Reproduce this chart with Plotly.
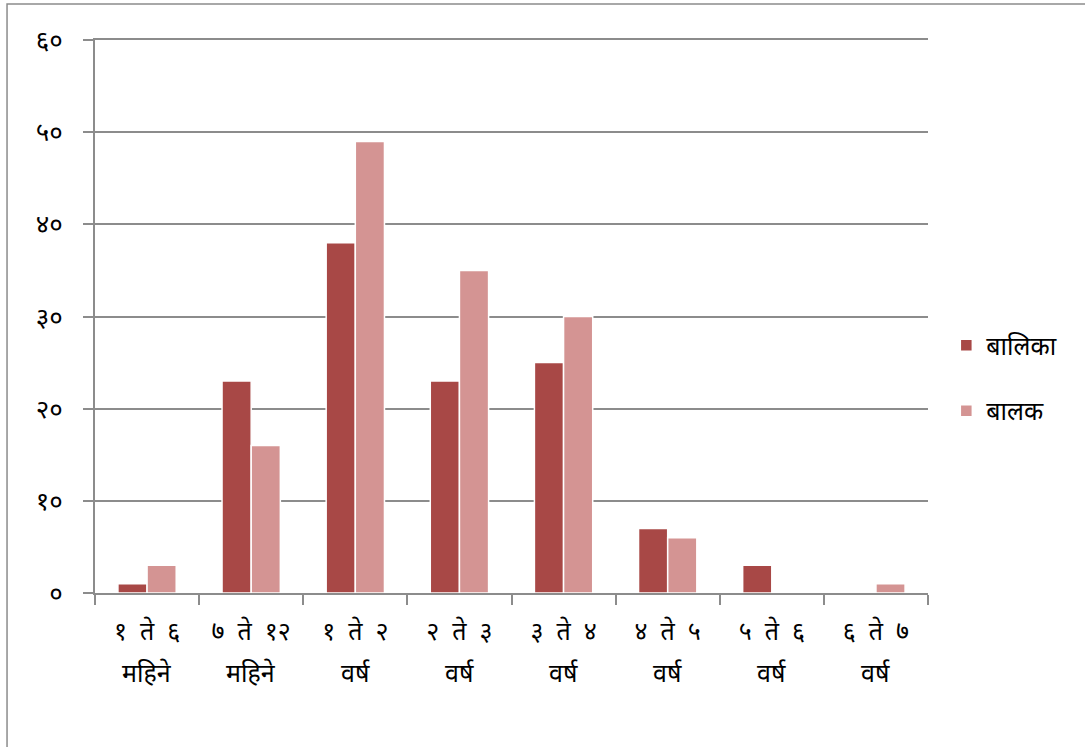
import plotly.graph_objects as go

line1 = ["१  ते  ६", "७  ते  १२", "१  ते  २", "२  ते  ३",
         "३  ते  ४", "४  ते  ५", "५  ते  ६", "६  ते  ७"]
line2 = ["महिने", "महिने", "वर्ष", "वर्ष", "वर्ष", "वर्ष", "वर्ष", "वर्ष"]
balika = [1, 23, 38, 23, 25, 7, 3, 0]
balak = [3, 16, 49, 35, 30, 6, 0, 1]
series_names = ["बालिका", "बालक"]
ytick_vals = [0, 10, 20, 30, 40, 50, 60]
ytick_text = ["०", "१०", "२०", "३०", "४०", "५०", "६०"]

categories = [a.replace(" ", "\u00a0") for a in line1]

FONT = "Noto Sans, sans-serif"
fig = go.Figure()
fig.add_trace(go.Bar(x=categories, y=balika, name=series_names[0], legendgroup="a",
                     marker=dict(color="#A84846", line=dict(color="white", width=1.5))))
fig.add_trace(go.Bar(x=categories, y=balak, name=series_names[1], legendgroup="b",
                     marker=dict(color="#D49493", line=dict(color="white", width=1.5))))

annotations = [dict(x=c, y=-0.143, xref="x", yref="paper", text=t, showarrow=False,
                    xanchor="center", yanchor="middle", font=dict(size=25))
               for c, t in zip(categories, line2)]

fig.update_layout(
    width=1085, height=747,
    margin=dict(l=95, r=157, t=40, b=154),
    paper_bgcolor="white", plot_bgcolor="white",
    barmode="group", bargap=0.44, bargroupgap=0,
    font=dict(family=FONT, size=18, color="black"),
    legend=dict(x=1.022, y=0.389, xanchor="left", yanchor="middle",
                traceorder="grouped", tracegroupgap=30,
                font=dict(size=25)),
    annotations=annotations,
    shapes=[dict(type="rect", xref="paper", yref="paper", x0=-0.1056, x1=1.3,
                 y0=-0.4, y1=1.0651, line=dict(color="#8c8c8c", width=1.5))],
)
fig.update_xaxes(showline=True, mirror=True, linecolor="#8c8c8c", linewidth=2,
                 ticks="outside", tickson="boundaries", ticklen=10, tickcolor="#8c8c8c",
                 tickwidth=2, tickfont=dict(size=25), showgrid=False, ticklabelstandoff=15)
fig.update_yaxes(range=[0, 60], tickvals=ytick_vals, ticktext=ytick_text,
                 showline=True, linecolor="#8c8c8c", linewidth=2,
                 ticks="outside", ticklen=10, tickcolor="#8c8c8c", tickwidth=2,
                 showgrid=True, gridcolor="#8c8c8c", gridwidth=1.5,
                 zeroline=False, tickfont=dict(size=26), ticklabelstandoff=15)
fig.write_html("out.html", config={"displayModeBar": False},
               post_script="document.body.style.margin='0px';")
